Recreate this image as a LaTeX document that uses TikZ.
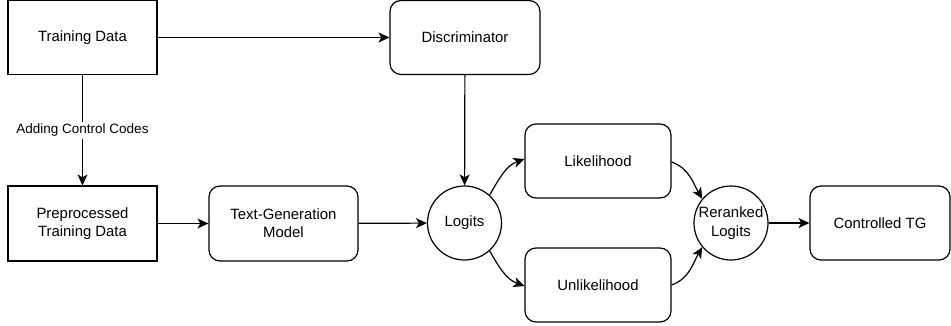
\documentclass[tikz,border=0pt]{standalone}
\usepackage{fontspec}
\setmainfont{Liberation Sans}
\usetikzlibrary{arrows.meta}

\begin{document}
\begin{tikzpicture}[x=1pt,y=-1pt,line width=1.2pt,
  every node/.style={font=\fontsize{14.9}{18.3}\selectfont,align=center,inner sep=0pt},
  databox/.style={draw,minimum width=149pt,minimum height=74pt},
  stagebox/.style={draw,rounded corners=11pt,minimum width=149pt,minimum height=74pt},
  logitcircle/.style={draw,circle,minimum size=74pt},
  flow/.style={-{Stealth[length=11pt,width=10pt,inset=3pt]}}]
  \useasboundingbox (0,0) rectangle (951,326);
  %top
  \node[databox] (td) at (82.5,37.5) {Training Data};
  \node[stagebox,minimum width=150pt] (disc) at (465,37.5) {Discriminator};
  %middle
  \node[databox,minimum height=75pt] (pre) at (82.5,223.5) {Preprocessed\\Training Data};
  \node[stagebox,minimum height=75pt] (tgm) at (283.5,223.5) {Text-Generation\\Model};
  \node[logitcircle] (logits) at (464.5,223) {Logits};
  \node[stagebox,minimum width=146pt] (like) at (598,161) {Likelihood};
  \node[stagebox,minimum width=146pt] (unlike) at (598,285) {Unlikelihood};
  \node[logitcircle] (rerank) at (731,223) {Reranked\\Logits};
  \node[stagebox,minimum width=140pt] (ctg) at (880,223) {Controlled TG};

  %connectors
  \draw[flow] (td) -- (disc);
  \draw[flow] (td) -- node[fill=white,inner sep=2pt,font=\fontsize{13.5}{16}\selectfont] {Adding Control Codes} (pre);
  \draw[flow] (disc) -- (logits);
  \draw[flow] (pre) -- (tgm);
  \draw[flow] (tgm) -- (logits);
  \draw[flow] (logits.48) to[out=60,in=200] ([yshift=2pt]like.west);
  \draw[flow] (logits.-48) to[out=-60,in=160] ([yshift=-1pt]unlike.west);
  \draw[flow] ([yshift=-1pt]like.east) to[out=-20,in=120] (rerank.140);
  \draw[flow] (unlike.east) to[out=20,in=-120] (rerank.-140);
  \draw[flow] (rerank) -- (ctg);
\end{tikzpicture}
\end{document}
